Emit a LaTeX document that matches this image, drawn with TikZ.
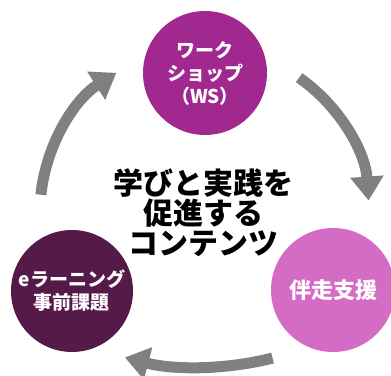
\documentclass[tikz,border=0pt]{standalone}
\usepackage{fontspec}
\setmainfont{Noto Sans CJK JP}
\usepackage{xcolor}
\usetikzlibrary{arrows.meta}
\definecolor{wscol}{HTML}{A0288F}
\definecolor{supcol}{HTML}{D46CC6}
\definecolor{elcol}{HTML}{561A48}
\definecolor{arrcol}{HTML}{808080}

\begin{document}
\begin{tikzpicture}[x=1pt,y=1pt,
	topic/.style={circle, inner sep=0pt, minimum size=124pt, text=white, align=center},
	cyc/.style={draw=arrcol, line width=11pt, -{Triangle[length=24pt,width=32pt]}}]
	\useasboundingbox (0,0) rectangle (391,-375);
	
	\node[topic, fill=wscol, font=\bfseries\fontsize{19}{23}\selectfont](WS) at (205,-73){ワーク\\ショップ\\（WS）};
	\node[topic, fill=supcol, font=\bfseries\fontsize{22}{26}\selectfont](SUP) at (333,-290){伴走支援};
	\node[topic, fill=elcol, font=\bfseries\fontsize{19}{23}\selectfont, minimum size=122pt](EL) at (72,-291){eラーニング\\事前課題};
	
	\node[align=center, font=\bfseries\fontsize{30}{30}\selectfont](TXT) at (203,-213){学びと実践を\\促進する\\コンテンツ};
	
	\coordinate(MID) at (205,-212);
	\coordinate(LOW) at (200,-67);
	
	\draw[cyc] (MID) ++(55:164pt) arc[start angle=55, end angle=4, radius=164pt];
	\draw[cyc] (LOW) ++(-76:300pt) arc[start angle=-76, end angle=-104.5, radius=300pt];
	\draw[cyc] (MID) ++(174:165pt) arc[start angle=174, end angle=122.5, radius=165pt];
\end{tikzpicture}
\end{document}
